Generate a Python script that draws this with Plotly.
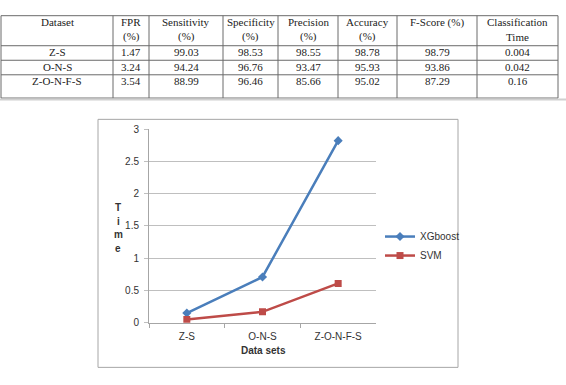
import plotly.graph_objects as go

# ---------------- data ----------------
table_headers = ["Dataset", "FPR\n(%)", "Sensitivity\n(%)", "Specificity\n(%)",
                 "Precision\n(%)", "Accuracy\n(%)", "F-Score (%)", "Classification\nTime"]
table_datasets = ["Z-S", "O-N-S", "Z-O-N-F-S"]
table_fpr = ["1.47", "3.24", "3.54"]
table_sensitivity = ["99.03", "94.24", "88.99"]
table_specificity = ["98.53", "96.76", "96.46"]
table_precision = ["98.55", "93.47", "85.66"]
table_accuracy = ["98.78", "95.93", "95.02"]
table_fscore = ["98.79", "93.86", "87.29"]
table_time = ["0.004", "0.042", "0.16"]

categories = ["Z-S", "O-N-S", "Z-O-N-F-S"]
xgboost_time = [0.15, 0.71, 2.82]
svm_time = [0.05, 0.17, 0.61]
y_ticks = [0, 0.5, 1, 1.5, 2, 2.5, 3]
x_title = "Data sets"
y_title = "Time"

# ---------------- layout helpers ----------------
W, H = 566, 385
def px(x):
    return x / W
def py(y):
    return 1 - y / H

fig = go.Figure()

fig.add_trace(go.Scatter(
    x=categories, y=xgboost_time, name="XGboost", mode="lines+markers",
    line=dict(color="#4a7ebb", width=2.5),
    marker=dict(symbol="diamond", size=7, color="#4a7ebb")))
fig.add_trace(go.Scatter(
    x=categories, y=svm_time, name="SVM", mode="lines+markers",
    line=dict(color="#be4b48", width=2.5),
    marker=dict(symbol="square", size=7, color="#be4b48")))

shapes = []
annotations = []

# ---------------- table ----------------
col_edges = [1, 113, 149, 223, 278, 338, 397, 477, 558]
row_edges = [10, 41, 56, 71, 95]
line_col = "#6a6a6a"
for yv in row_edges:
    shapes.append(dict(type="line", xref="paper", yref="paper",
                       x0=px(col_edges[0]), x1=px(col_edges[-1]), y0=py(yv), y1=py(yv),
                       line=dict(color=line_col, width=1)))
shapes.append(dict(type="line", xref="paper", yref="paper",
                   x0=px(0), x1=px(566), y0=py(96.5), y1=py(96.5),
                   line=dict(color="#d0d0d0", width=2)))
for xv in col_edges:
    shapes.append(dict(type="line", xref="paper", yref="paper",
                       x0=px(xv), x1=px(xv), y0=py(row_edges[0]), y1=py(row_edges[-1]),
                       line=dict(color=line_col, width=1)))

tfont = dict(family="Liberation Serif, DejaVu Serif, serif", size=11, color="#222")
centers = [(col_edges[i] + col_edges[i + 1]) / 2 for i in range(len(col_edges) - 1)]
for i, h in enumerate(table_headers):
    lines = h.split("\n")
    for j, ln in enumerate(lines):
        annotations.append(dict(text=ln, x=px(centers[i]), y=py(17 + 14.5 * j),
                                xref="paper", yref="paper", showarrow=False,
                                xanchor="center", yanchor="middle", font=tfont))
columns = [table_datasets, table_fpr, table_sensitivity, table_specificity,
           table_precision, table_accuracy, table_fscore, table_time]
row_text_y = [47.5, 62.5, 77.5]
for i, col in enumerate(columns):
    for r, val in enumerate(col):
        annotations.append(dict(text=val, x=px(centers[i]), y=py(row_text_y[r]),
                                xref="paper", yref="paper", showarrow=False,
                                xanchor="center", yanchor="middle", font=tfont))

# ---------------- chart frame ----------------
shapes.append(dict(type="rect", xref="paper", yref="paper",
                   x0=px(98), x1=px(458), y0=py(373), y1=py(117),
                   line=dict(color="#a6a6a6", width=1)))

cfont = dict(family="Liberation Sans, Arial, sans-serif", size=10, color="#333")
# y-axis title stacked letters
for k, ch in enumerate(y_title):
    annotations.append(dict(text="<b>" + ch + "</b>", x=px(118), y=py(208 + 14 * k),
                            xref="paper", yref="paper", showarrow=False,
                            xanchor="center", yanchor="middle", font=cfont))
annotations.append(dict(text="<b>" + x_title + "</b>", x=px(263), y=py(356),
                        xref="paper", yref="paper", showarrow=False,
                        xanchor="center", yanchor="middle", font=cfont))

fig.update_layout(
    width=W, height=H, margin=dict(l=0, r=0, t=0, b=0),
    paper_bgcolor="white", plot_bgcolor="white",
    shapes=shapes, annotations=annotations,
    font=cfont,
    xaxis=dict(domain=[px(149), px(376)], range=[-0.5, 2.5], type="category",
               showgrid=False, showline=True, linecolor="#a6a6a6", linewidth=1,
               ticks="outside", tickson="boundaries", ticklen=4, tickcolor="#a6a6a6",
               ticklabelstandoff=4,
               tickfont=cfont, zeroline=False, fixedrange=True),
    yaxis=dict(domain=[py(327), py(127)], range=[0, 3], tickvals=y_ticks,
               ticktext=[f"{v:g}" for v in y_ticks],
               showgrid=True, gridcolor="#bfbfbf", gridwidth=1,
               showline=True, linecolor="#a6a6a6", linewidth=1,
               ticks="outside", ticklen=4, tickcolor="#bfbfbf",
               ticklabelstandoff=3,
               tickfont=cfont, zeroline=False, fixedrange=True),
    legend=dict(x=px(380), y=py(223), xanchor="left", yanchor="top",
                font=dict(family="Liberation Sans, Arial, sans-serif", size=10, color="#333"),
                itemwidth=30, bgcolor="rgba(0,0,0,0)", tracegroupgap=0),
    showlegend=True,
)

fig.write_html("out.html")
